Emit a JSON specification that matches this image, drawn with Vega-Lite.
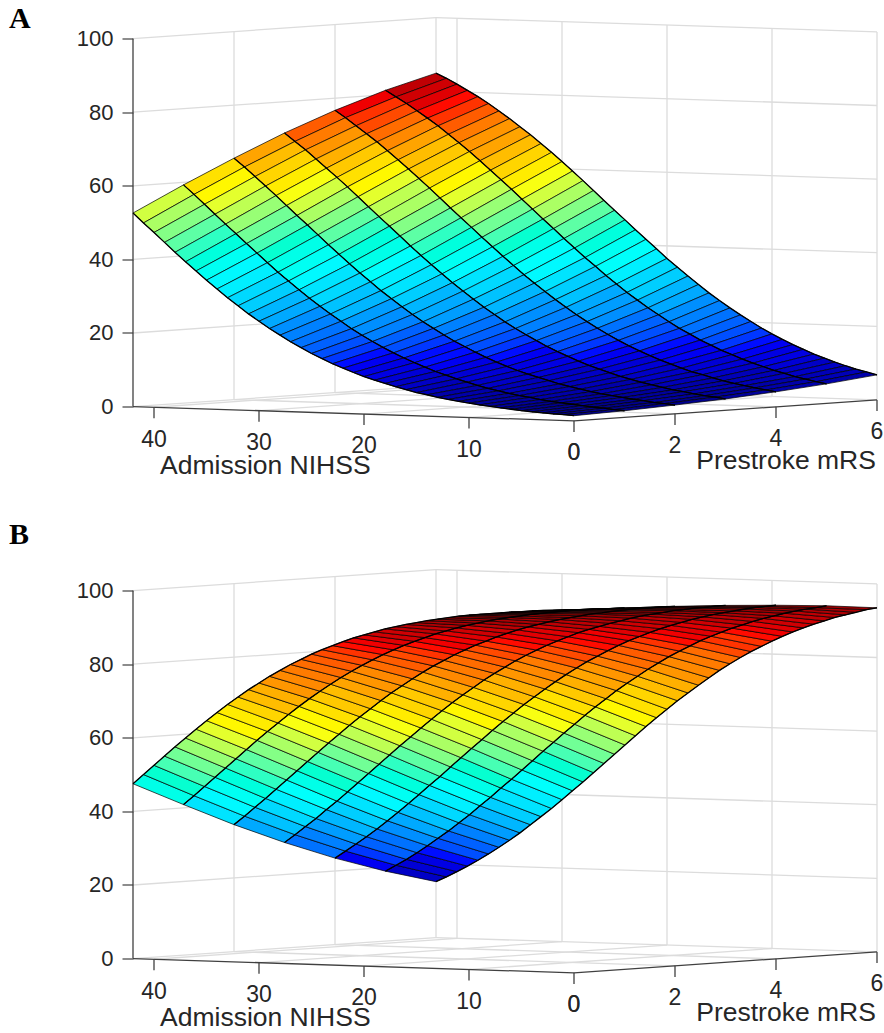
{"$schema":"https://vega.github.io/schema/vega-lite/v6.json","padding":{"left":9,"top":3.5,"right":0,"bottom":0},"background":"white","bounds":"flush","config":{"view":{"stroke":null},"font":"Liberation Sans"},
"datasets":{"wall":[{"id":"a","n":42,"m":0,"z":20},{"id":"a","n":42,"m":6,"z":20},{"id":"b","n":42,"m":0,"z":40},{"id":"b","n":42,"m":6,"z":40},{"id":"c","n":42,"m":0,"z":60},{"id":"c","n":42,"m":6,"z":60},{"id":"d","n":42,"m":0,"z":80},{"id":"d","n":42,"m":6,"z":80},{"id":"e","n":42,"m":0,"z":100},{"id":"e","n":42,"m":6,"z":100},{"id":"f","n":42,"m":6,"z":0},{"id":"f","n":0,"m":6,"z":0},{"id":"g","n":42,"m":6,"z":20},{"id":"g","n":0,"m":6,"z":20},{"id":"h","n":42,"m":6,"z":40},{"id":"h","n":0,"m":6,"z":40},{"id":"i","n":42,"m":6,"z":60},{"id":"i","n":0,"m":6,"z":60},{"id":"j","n":42,"m":6,"z":80},{"id":"j","n":0,"m":6,"z":80},{"id":"k","n":42,"m":6,"z":100},{"id":"k","n":0,"m":6,"z":100},{"id":"l","n":42,"m":2,"z":0},{"id":"l","n":42,"m":2,"z":100},{"id":"m","n":42,"m":4,"z":0},{"id":"m","n":42,"m":4,"z":100},{"id":"n","n":42,"m":6,"z":0},{"id":"n","n":42,"m":6,"z":100},{"id":"o","n":40,"m":6,"z":0},{"id":"o","n":40,"m":6,"z":100},{"id":"p","n":30,"m":6,"z":0},{"id":"p","n":30,"m":6,"z":100},{"id":"q","n":20,"m":6,"z":0},{"id":"q","n":20,"m":6,"z":100},{"id":"r","n":10,"m":6,"z":0},{"id":"r","n":10,"m":6,"z":100},{"id":"s","n":0,"m":6,"z":0},{"id":"s","n":0,"m":6,"z":100},{"id":"t","n":42,"m":0,"z":0},{"id":"t","n":42,"m":6,"z":0},{"id":"u","n":40,"m":0,"z":0},{"id":"u","n":40,"m":6,"z":0},{"id":"v","n":30,"m":0,"z":0},{"id":"v","n":30,"m":6,"z":0},{"id":"w","n":20,"m":0,"z":0},{"id":"w","n":20,"m":6,"z":0},{"id":"x","n":10,"m":0,"z":0},{"id":"x","n":10,"m":6,"z":0},{"id":"y","n":0,"m":2,"z":0},{"id":"y","n":42,"m":2,"z":0},{"id":"z","n":0,"m":4,"z":0},{"id":"z","n":42,"m":4,"z":0}],
"axes":[{"id":"a","n":42,"m":0,"z":0},{"id":"a","n":42,"m":0,"z":100},{"id":"b","n":42,"m":0,"z":0},{"id":"b","n":0,"m":0,"z":0},{"id":"c","n":0,"m":0,"z":0},{"id":"c","n":0,"m":6,"z":0},{"id":"d","n":40,"m":0,"z":0},{"id":"d","n":40,"m":0,"z":-3},{"id":"e","n":30,"m":0,"z":0},{"id":"e","n":30,"m":0,"z":-3},{"id":"f","n":20,"m":0,"z":0},{"id":"f","n":20,"m":0,"z":-3},{"id":"g","n":10,"m":0,"z":0},{"id":"g","n":10,"m":0,"z":-3},{"id":"h","n":0,"m":0,"z":0},{"id":"h","n":0,"m":0,"z":-3},{"id":"i","n":0,"m":2,"z":0},{"id":"i","n":0,"m":2,"z":-3},{"id":"j","n":0,"m":4,"z":0},{"id":"j","n":0,"m":4,"z":-3},{"id":"k","n":0,"m":6,"z":0},{"id":"k","n":0,"m":6,"z":-3}],
"ticks":[{"t":"40","n":40,"m":0},{"t":"30","n":30,"m":0},{"t":"20","n":20,"m":0},{"t":"10","n":10,"m":0},{"t":"0","n":0,"m":0},{"t":"0","n":0,"m":0},{"t":"2","n":0,"m":2},{"t":"4","n":0,"m":4},{"t":"6","n":0,"m":6}],
"titles":[{"t":"Admission NIHSS","n":29.4,"m":0},{"t":"Prestroke mRS","n":0,"m":4.2}]},
"data":{"values":[
{"p":"A","n":42,"m":6,"z":84.9},{"p":"A","n":42,"m":5,"z":81.2},{"p":"A","n":42,"m":4,"z":76.7},{"p":"A","n":42,"m":3,"z":71.5},{"p":"A","n":42,"m":2,"z":65.6},{"p":"A","n":42,"m":1,"z":59.3},{"p":"A","n":42,"m":0,"z":52.6},
{"p":"A","n":41,"m":6,"z":83.6},{"p":"A","n":41,"m":5,"z":79.5},{"p":"A","n":41,"m":4,"z":74.8},{"p":"A","n":41,"m":3,"z":69.3},{"p":"A","n":41,"m":2,"z":63.3},{"p":"A","n":41,"m":1,"z":56.8},{"p":"A","n":41,"m":0,"z":50},
{"p":"A","n":40,"m":6,"z":82.1},{"p":"A","n":40,"m":5,"z":77.8},{"p":"A","n":40,"m":4,"z":72.7},{"p":"A","n":40,"m":3,"z":67.1},{"p":"A","n":40,"m":2,"z":60.8},{"p":"A","n":40,"m":1,"z":54.2},{"p":"A","n":40,"m":0,"z":47.5},
{"p":"A","n":39,"m":6,"z":80.5},{"p":"A","n":39,"m":5,"z":75.9},{"p":"A","n":39,"m":4,"z":70.6},{"p":"A","n":39,"m":3,"z":64.7},{"p":"A","n":39,"m":2,"z":58.3},{"p":"A","n":39,"m":1,"z":51.6},{"p":"A","n":39,"m":0,"z":44.9},
{"p":"A","n":38,"m":6,"z":78.9},{"p":"A","n":38,"m":5,"z":74},{"p":"A","n":38,"m":4,"z":68.5},{"p":"A","n":38,"m":3,"z":62.3},{"p":"A","n":38,"m":2,"z":55.8},{"p":"A","n":38,"m":1,"z":49},{"p":"A","n":38,"m":0,"z":42.3},
{"p":"A","n":37,"m":6,"z":77.1},{"p":"A","n":37,"m":5,"z":72},{"p":"A","n":37,"m":4,"z":66.2},{"p":"A","n":37,"m":3,"z":59.9},{"p":"A","n":37,"m":2,"z":53.2},{"p":"A","n":37,"m":1,"z":46.5},{"p":"A","n":37,"m":0,"z":39.8},
{"p":"A","n":36,"m":6,"z":75.2},{"p":"A","n":36,"m":5,"z":69.8},{"p":"A","n":36,"m":4,"z":63.8},{"p":"A","n":36,"m":3,"z":57.4},{"p":"A","n":36,"m":2,"z":50.6},{"p":"A","n":36,"m":1,"z":43.9},{"p":"A","n":36,"m":0,"z":37.4},
{"p":"A","n":35,"m":6,"z":73.2},{"p":"A","n":35,"m":5,"z":67.6},{"p":"A","n":35,"m":4,"z":61.4},{"p":"A","n":35,"m":3,"z":54.8},{"p":"A","n":35,"m":2,"z":48.1},{"p":"A","n":35,"m":1,"z":41.4},{"p":"A","n":35,"m":0,"z":35},
{"p":"A","n":34,"m":6,"z":71.1},{"p":"A","n":34,"m":5,"z":65.3},{"p":"A","n":34,"m":4,"z":58.9},{"p":"A","n":34,"m":3,"z":52.2},{"p":"A","n":34,"m":2,"z":45.5},{"p":"A","n":34,"m":1,"z":38.9},{"p":"A","n":34,"m":0,"z":32.7},
{"p":"A","n":33,"m":6,"z":69},{"p":"A","n":33,"m":5,"z":62.9},{"p":"A","n":33,"m":4,"z":56.4},{"p":"A","n":33,"m":3,"z":49.6},{"p":"A","n":33,"m":2,"z":42.9},{"p":"A","n":33,"m":1,"z":36.4},{"p":"A","n":33,"m":0,"z":30.4},
{"p":"A","n":32,"m":6,"z":66.7},{"p":"A","n":32,"m":5,"z":60.4},{"p":"A","n":32,"m":4,"z":53.8},{"p":"A","n":32,"m":3,"z":47.1},{"p":"A","n":32,"m":2,"z":40.4},{"p":"A","n":32,"m":1,"z":34.1},{"p":"A","n":32,"m":0,"z":28.3},
{"p":"A","n":31,"m":6,"z":64.4},{"p":"A","n":31,"m":5,"z":57.9},{"p":"A","n":31,"m":4,"z":51.2},{"p":"A","n":31,"m":3,"z":44.5},{"p":"A","n":31,"m":2,"z":37.9},{"p":"A","n":31,"m":1,"z":31.8},{"p":"A","n":31,"m":0,"z":26.2},
{"p":"A","n":30,"m":6,"z":62},{"p":"A","n":30,"m":5,"z":55.4},{"p":"A","n":30,"m":4,"z":48.6},{"p":"A","n":30,"m":3,"z":41.9},{"p":"A","n":30,"m":2,"z":35.5},{"p":"A","n":30,"m":1,"z":29.6},{"p":"A","n":30,"m":0,"z":24.3},
{"p":"A","n":29,"m":6,"z":59.5},{"p":"A","n":29,"m":5,"z":52.8},{"p":"A","n":29,"m":4,"z":46.1},{"p":"A","n":29,"m":3,"z":39.4},{"p":"A","n":29,"m":2,"z":33.2},{"p":"A","n":29,"m":1,"z":27.5},{"p":"A","n":29,"m":0,"z":22.4},
{"p":"A","n":28,"m":6,"z":57},{"p":"A","n":28,"m":5,"z":50.2},{"p":"A","n":28,"m":4,"z":43.5},{"p":"A","n":28,"m":3,"z":37},{"p":"A","n":28,"m":2,"z":30.9},{"p":"A","n":28,"m":1,"z":25.5},{"p":"A","n":28,"m":0,"z":20.7},
{"p":"A","n":27,"m":6,"z":54.4},{"p":"A","n":27,"m":5,"z":47.6},{"p":"A","n":27,"m":4,"z":41},{"p":"A","n":27,"m":3,"z":34.6},{"p":"A","n":27,"m":2,"z":28.8},{"p":"A","n":27,"m":1,"z":23.6},{"p":"A","n":27,"m":0,"z":19},
{"p":"A","n":26,"m":6,"z":51.8},{"p":"A","n":26,"m":5,"z":45.1},{"p":"A","n":26,"m":4,"z":38.5},{"p":"A","n":26,"m":3,"z":32.3},{"p":"A","n":26,"m":2,"z":26.7},{"p":"A","n":26,"m":1,"z":21.7},{"p":"A","n":26,"m":0,"z":17.5},
{"p":"A","n":25,"m":6,"z":49.2},{"p":"A","n":25,"m":5,"z":42.5},{"p":"A","n":25,"m":4,"z":36.1},{"p":"A","n":25,"m":3,"z":30.1},{"p":"A","n":25,"m":2,"z":24.7},{"p":"A","n":25,"m":1,"z":20},{"p":"A","n":25,"m":0,"z":16},
{"p":"A","n":24,"m":6,"z":46.7},{"p":"A","n":24,"m":5,"z":40},{"p":"A","n":24,"m":4,"z":33.7},{"p":"A","n":24,"m":3,"z":28},{"p":"A","n":24,"m":2,"z":22.8},{"p":"A","n":24,"m":1,"z":18.4},{"p":"A","n":24,"m":0,"z":14.7},
{"p":"A","n":23,"m":6,"z":44.1},{"p":"A","n":23,"m":5,"z":37.5},{"p":"A","n":23,"m":4,"z":31.5},{"p":"A","n":23,"m":3,"z":25.9},{"p":"A","n":23,"m":2,"z":21.1},{"p":"A","n":23,"m":1,"z":16.9},{"p":"A","n":23,"m":0,"z":13.4},
{"p":"A","n":22,"m":6,"z":41.6},{"p":"A","n":22,"m":5,"z":35.2},{"p":"A","n":22,"m":4,"z":29.3},{"p":"A","n":22,"m":3,"z":24},{"p":"A","n":22,"m":2,"z":19.4},{"p":"A","n":22,"m":1,"z":15.5},{"p":"A","n":22,"m":0,"z":12.3},
{"p":"A","n":21,"m":6,"z":39.1},{"p":"A","n":21,"m":5,"z":32.8},{"p":"A","n":21,"m":4,"z":27.2},{"p":"A","n":21,"m":3,"z":22.1},{"p":"A","n":21,"m":2,"z":17.8},{"p":"A","n":21,"m":1,"z":14.2},{"p":"A","n":21,"m":0,"z":11.2},
{"p":"A","n":20,"m":6,"z":36.6},{"p":"A","n":20,"m":5,"z":30.6},{"p":"A","n":20,"m":4,"z":25.2},{"p":"A","n":20,"m":3,"z":20.4},{"p":"A","n":20,"m":2,"z":16.4},{"p":"A","n":20,"m":1,"z":13},{"p":"A","n":20,"m":0,"z":10.2},
{"p":"A","n":19,"m":6,"z":34.3},{"p":"A","n":19,"m":5,"z":28.4},{"p":"A","n":19,"m":4,"z":23.3},{"p":"A","n":19,"m":3,"z":18.8},{"p":"A","n":19,"m":2,"z":15},{"p":"A","n":19,"m":1,"z":11.9},{"p":"A","n":19,"m":0,"z":9.3},
{"p":"A","n":18,"m":6,"z":32},{"p":"A","n":18,"m":5,"z":26.4},{"p":"A","n":18,"m":4,"z":21.5},{"p":"A","n":18,"m":3,"z":17.3},{"p":"A","n":18,"m":2,"z":13.7},{"p":"A","n":18,"m":1,"z":10.8},{"p":"A","n":18,"m":0,"z":8.5},
{"p":"A","n":17,"m":6,"z":29.8},{"p":"A","n":17,"m":5,"z":24.4},{"p":"A","n":17,"m":4,"z":19.8},{"p":"A","n":17,"m":3,"z":15.8},{"p":"A","n":17,"m":2,"z":12.5},{"p":"A","n":17,"m":1,"z":9.9},{"p":"A","n":17,"m":0,"z":7.7},
{"p":"A","n":16,"m":6,"z":27.6},{"p":"A","n":16,"m":5,"z":22.6},{"p":"A","n":16,"m":4,"z":18.2},{"p":"A","n":16,"m":3,"z":14.5},{"p":"A","n":16,"m":2,"z":11.4},{"p":"A","n":16,"m":1,"z":9},{"p":"A","n":16,"m":0,"z":7},
{"p":"A","n":15,"m":6,"z":25.6},{"p":"A","n":15,"m":5,"z":20.8},{"p":"A","n":15,"m":4,"z":16.7},{"p":"A","n":15,"m":3,"z":13.3},{"p":"A","n":15,"m":2,"z":10.4},{"p":"A","n":15,"m":1,"z":8.2},{"p":"A","n":15,"m":0,"z":6.3},
{"p":"A","n":14,"m":6,"z":23.7},{"p":"A","n":14,"m":5,"z":19.1},{"p":"A","n":14,"m":4,"z":15.3},{"p":"A","n":14,"m":3,"z":12.1},{"p":"A","n":14,"m":2,"z":9.5},{"p":"A","n":14,"m":1,"z":7.4},{"p":"A","n":14,"m":0,"z":5.8},
{"p":"A","n":13,"m":6,"z":21.9},{"p":"A","n":13,"m":5,"z":17.6},{"p":"A","n":13,"m":4,"z":14},{"p":"A","n":13,"m":3,"z":11},{"p":"A","n":13,"m":2,"z":8.7},{"p":"A","n":13,"m":1,"z":6.7},{"p":"A","n":13,"m":0,"z":5.2},
{"p":"A","n":12,"m":6,"z":20.2},{"p":"A","n":12,"m":5,"z":16.1},{"p":"A","n":12,"m":4,"z":12.8},{"p":"A","n":12,"m":3,"z":10.1},{"p":"A","n":12,"m":2,"z":7.9},{"p":"A","n":12,"m":1,"z":6.1},{"p":"A","n":12,"m":0,"z":4.7},
{"p":"A","n":11,"m":6,"z":18.5},{"p":"A","n":11,"m":5,"z":14.8},{"p":"A","n":11,"m":4,"z":11.7},{"p":"A","n":11,"m":3,"z":9.2},{"p":"A","n":11,"m":2,"z":7.1},{"p":"A","n":11,"m":1,"z":5.5},{"p":"A","n":11,"m":0,"z":4.3},
{"p":"A","n":10,"m":6,"z":17},{"p":"A","n":10,"m":5,"z":13.5},{"p":"A","n":10,"m":4,"z":10.7},{"p":"A","n":10,"m":3,"z":8.3},{"p":"A","n":10,"m":2,"z":6.5},{"p":"A","n":10,"m":1,"z":5},{"p":"A","n":10,"m":0,"z":3.9},
{"p":"A","n":9,"m":6,"z":15.6},{"p":"A","n":9,"m":5,"z":12.4},{"p":"A","n":9,"m":4,"z":9.7},{"p":"A","n":9,"m":3,"z":7.6},{"p":"A","n":9,"m":2,"z":5.9},{"p":"A","n":9,"m":1,"z":4.6},{"p":"A","n":9,"m":0,"z":3.5},
{"p":"A","n":8,"m":6,"z":14.3},{"p":"A","n":8,"m":5,"z":11.3},{"p":"A","n":8,"m":4,"z":8.8},{"p":"A","n":8,"m":3,"z":6.9},{"p":"A","n":8,"m":2,"z":5.3},{"p":"A","n":8,"m":1,"z":4.1},{"p":"A","n":8,"m":0,"z":3.2},
{"p":"A","n":7,"m":6,"z":13.1},{"p":"A","n":7,"m":5,"z":10.3},{"p":"A","n":7,"m":4,"z":8.1},{"p":"A","n":7,"m":3,"z":6.3},{"p":"A","n":7,"m":2,"z":4.8},{"p":"A","n":7,"m":1,"z":3.7},{"p":"A","n":7,"m":0,"z":2.9},
{"p":"A","n":6,"m":6,"z":11.9},{"p":"A","n":6,"m":5,"z":9.4},{"p":"A","n":6,"m":4,"z":7.3},{"p":"A","n":6,"m":3,"z":5.7},{"p":"A","n":6,"m":2,"z":4.4},{"p":"A","n":6,"m":1,"z":3.4},{"p":"A","n":6,"m":0,"z":2.6},
{"p":"A","n":5,"m":6,"z":10.9},{"p":"A","n":5,"m":5,"z":8.5},{"p":"A","n":5,"m":4,"z":6.6},{"p":"A","n":5,"m":3,"z":5.1},{"p":"A","n":5,"m":2,"z":4},{"p":"A","n":5,"m":1,"z":3.1},{"p":"A","n":5,"m":0,"z":2.3},
{"p":"A","n":4,"m":6,"z":9.9},{"p":"A","n":4,"m":5,"z":7.8},{"p":"A","n":4,"m":4,"z":6},{"p":"A","n":4,"m":3,"z":4.7},{"p":"A","n":4,"m":2,"z":3.6},{"p":"A","n":4,"m":1,"z":2.8},{"p":"A","n":4,"m":0,"z":2.1},
{"p":"A","n":3,"m":6,"z":9},{"p":"A","n":3,"m":5,"z":7},{"p":"A","n":3,"m":4,"z":5.5},{"p":"A","n":3,"m":3,"z":4.2},{"p":"A","n":3,"m":2,"z":3.3},{"p":"A","n":3,"m":1,"z":2.5},{"p":"A","n":3,"m":0,"z":1.9},
{"p":"A","n":2,"m":6,"z":8.2},{"p":"A","n":2,"m":5,"z":6.4},{"p":"A","n":2,"m":4,"z":5},{"p":"A","n":2,"m":3,"z":3.8},{"p":"A","n":2,"m":2,"z":2.9},{"p":"A","n":2,"m":1,"z":2.3},{"p":"A","n":2,"m":0,"z":1.7},
{"p":"A","n":1,"m":6,"z":7.5},{"p":"A","n":1,"m":5,"z":5.8},{"p":"A","n":1,"m":4,"z":4.5},{"p":"A","n":1,"m":3,"z":3.5},{"p":"A","n":1,"m":2,"z":2.7},{"p":"A","n":1,"m":1,"z":2},{"p":"A","n":1,"m":0,"z":1.6},
{"p":"A","n":0,"m":6,"z":6.8},{"p":"A","n":0,"m":5,"z":5.3},{"p":"A","n":0,"m":4,"z":4.1},{"p":"A","n":0,"m":3,"z":3.1},{"p":"A","n":0,"m":2,"z":2.4},{"p":"A","n":0,"m":1,"z":1.8},{"p":"A","n":0,"m":0,"z":1.4},
{"p":"B","n":42,"m":6,"z":15.2},{"p":"B","n":42,"m":5,"z":19},{"p":"B","n":42,"m":4,"z":23.5},{"p":"B","n":42,"m":3,"z":28.7},{"p":"B","n":42,"m":2,"z":34.5},{"p":"B","n":42,"m":1,"z":40.9},{"p":"B","n":42,"m":0,"z":47.5},
{"p":"B","n":41,"m":6,"z":16.6},{"p":"B","n":41,"m":5,"z":20.7},{"p":"B","n":41,"m":4,"z":25.5},{"p":"B","n":41,"m":3,"z":30.9},{"p":"B","n":41,"m":2,"z":36.9},{"p":"B","n":41,"m":1,"z":43.4},{"p":"B","n":41,"m":0,"z":50.1},
{"p":"B","n":40,"m":6,"z":18.1},{"p":"B","n":40,"m":5,"z":22.4},{"p":"B","n":40,"m":4,"z":27.5},{"p":"B","n":40,"m":3,"z":33.2},{"p":"B","n":40,"m":2,"z":39.4},{"p":"B","n":40,"m":1,"z":46},{"p":"B","n":40,"m":0,"z":52.7},
{"p":"B","n":39,"m":6,"z":19.7},{"p":"B","n":39,"m":5,"z":24.3},{"p":"B","n":39,"m":4,"z":29.6},{"p":"B","n":39,"m":3,"z":35.5},{"p":"B","n":39,"m":2,"z":41.9},{"p":"B","n":39,"m":1,"z":48.6},{"p":"B","n":39,"m":0,"z":55.3},
{"p":"B","n":38,"m":6,"z":21.4},{"p":"B","n":38,"m":5,"z":26.3},{"p":"B","n":38,"m":4,"z":31.8},{"p":"B","n":38,"m":3,"z":38},{"p":"B","n":38,"m":2,"z":44.5},{"p":"B","n":38,"m":1,"z":51.2},{"p":"B","n":38,"m":0,"z":57.9},
{"p":"B","n":37,"m":6,"z":23.2},{"p":"B","n":37,"m":5,"z":28.4},{"p":"B","n":37,"m":4,"z":34.1},{"p":"B","n":37,"m":3,"z":40.4},{"p":"B","n":37,"m":2,"z":47.1},{"p":"B","n":37,"m":1,"z":53.8},{"p":"B","n":37,"m":0,"z":60.4},
{"p":"B","n":36,"m":6,"z":25.1},{"p":"B","n":36,"m":5,"z":30.5},{"p":"B","n":36,"m":4,"z":36.5},{"p":"B","n":36,"m":3,"z":43},{"p":"B","n":36,"m":2,"z":49.7},{"p":"B","n":36,"m":1,"z":56.4},{"p":"B","n":36,"m":0,"z":62.9},
{"p":"B","n":35,"m":6,"z":27.1},{"p":"B","n":35,"m":5,"z":32.8},{"p":"B","n":35,"m":4,"z":39},{"p":"B","n":35,"m":3,"z":45.6},{"p":"B","n":35,"m":2,"z":52.3},{"p":"B","n":35,"m":1,"z":59},{"p":"B","n":35,"m":0,"z":65.3},
{"p":"B","n":34,"m":6,"z":29.2},{"p":"B","n":34,"m":5,"z":35.1},{"p":"B","n":34,"m":4,"z":41.5},{"p":"B","n":34,"m":3,"z":48.2},{"p":"B","n":34,"m":2,"z":54.9},{"p":"B","n":34,"m":1,"z":61.5},{"p":"B","n":34,"m":0,"z":67.6},
{"p":"B","n":33,"m":6,"z":31.5},{"p":"B","n":33,"m":5,"z":37.6},{"p":"B","n":33,"m":4,"z":44.1},{"p":"B","n":33,"m":3,"z":50.8},{"p":"B","n":33,"m":2,"z":57.5},{"p":"B","n":33,"m":1,"z":63.9},{"p":"B","n":33,"m":0,"z":69.9},
{"p":"B","n":32,"m":6,"z":33.8},{"p":"B","n":32,"m":5,"z":40},{"p":"B","n":32,"m":4,"z":46.6},{"p":"B","n":32,"m":3,"z":53.4},{"p":"B","n":32,"m":2,"z":60},{"p":"B","n":32,"m":1,"z":66.3},{"p":"B","n":32,"m":0,"z":72},
{"p":"B","n":31,"m":6,"z":36.1},{"p":"B","n":31,"m":5,"z":42.6},{"p":"B","n":31,"m":4,"z":49.3},{"p":"B","n":31,"m":3,"z":56},{"p":"B","n":31,"m":2,"z":62.5},{"p":"B","n":31,"m":1,"z":68.6},{"p":"B","n":31,"m":0,"z":74.1},
{"p":"B","n":30,"m":6,"z":38.6},{"p":"B","n":30,"m":5,"z":45.1},{"p":"B","n":30,"m":4,"z":51.9},{"p":"B","n":30,"m":3,"z":58.5},{"p":"B","n":30,"m":2,"z":64.9},{"p":"B","n":30,"m":1,"z":70.8},{"p":"B","n":30,"m":0,"z":76},
{"p":"B","n":29,"m":6,"z":41.1},{"p":"B","n":29,"m":5,"z":47.7},{"p":"B","n":29,"m":4,"z":54.5},{"p":"B","n":29,"m":3,"z":61},{"p":"B","n":29,"m":2,"z":67.2},{"p":"B","n":29,"m":1,"z":72.9},{"p":"B","n":29,"m":0,"z":77.9},
{"p":"B","n":28,"m":6,"z":43.6},{"p":"B","n":28,"m":5,"z":50.3},{"p":"B","n":28,"m":4,"z":57},{"p":"B","n":28,"m":3,"z":63.5},{"p":"B","n":28,"m":2,"z":69.5},{"p":"B","n":28,"m":1,"z":74.9},{"p":"B","n":28,"m":0,"z":79.6},
{"p":"B","n":27,"m":6,"z":46.2},{"p":"B","n":27,"m":5,"z":53},{"p":"B","n":27,"m":4,"z":59.6},{"p":"B","n":27,"m":3,"z":65.9},{"p":"B","n":27,"m":2,"z":71.7},{"p":"B","n":27,"m":1,"z":76.8},{"p":"B","n":27,"m":0,"z":81.3},
{"p":"B","n":26,"m":6,"z":48.8},{"p":"B","n":26,"m":5,"z":55.5},{"p":"B","n":26,"m":4,"z":62.1},{"p":"B","n":26,"m":3,"z":68.2},{"p":"B","n":26,"m":2,"z":73.7},{"p":"B","n":26,"m":1,"z":78.6},{"p":"B","n":26,"m":0,"z":82.8},
{"p":"B","n":25,"m":6,"z":51.4},{"p":"B","n":25,"m":5,"z":58.1},{"p":"B","n":25,"m":4,"z":64.5},{"p":"B","n":25,"m":3,"z":70.4},{"p":"B","n":25,"m":2,"z":75.7},{"p":"B","n":25,"m":1,"z":80.3},{"p":"B","n":25,"m":0,"z":84.3},
{"p":"B","n":24,"m":6,"z":54},{"p":"B","n":24,"m":5,"z":60.6},{"p":"B","n":24,"m":4,"z":66.9},{"p":"B","n":24,"m":3,"z":72.5},{"p":"B","n":24,"m":2,"z":77.6},{"p":"B","n":24,"m":1,"z":81.9},{"p":"B","n":24,"m":0,"z":85.6},
{"p":"B","n":23,"m":6,"z":56.6},{"p":"B","n":23,"m":5,"z":63.1},{"p":"B","n":23,"m":4,"z":69.1},{"p":"B","n":23,"m":3,"z":74.6},{"p":"B","n":23,"m":2,"z":79.4},{"p":"B","n":23,"m":1,"z":83.4},{"p":"B","n":23,"m":0,"z":86.8},
{"p":"B","n":22,"m":6,"z":59.2},{"p":"B","n":22,"m":5,"z":65.5},{"p":"B","n":22,"m":4,"z":71.3},{"p":"B","n":22,"m":3,"z":76.5},{"p":"B","n":22,"m":2,"z":81},{"p":"B","n":22,"m":1,"z":84.8},{"p":"B","n":22,"m":0,"z":88},
{"p":"B","n":21,"m":6,"z":61.7},{"p":"B","n":21,"m":5,"z":67.8},{"p":"B","n":21,"m":4,"z":73.4},{"p":"B","n":21,"m":3,"z":78.3},{"p":"B","n":21,"m":2,"z":82.6},{"p":"B","n":21,"m":1,"z":86.1},{"p":"B","n":21,"m":0,"z":89.1},
{"p":"B","n":20,"m":6,"z":64.1},{"p":"B","n":20,"m":5,"z":70.1},{"p":"B","n":20,"m":4,"z":75.4},{"p":"B","n":20,"m":3,"z":80.1},{"p":"B","n":20,"m":2,"z":84},{"p":"B","n":20,"m":1,"z":87.3},{"p":"B","n":20,"m":0,"z":90},
{"p":"B","n":19,"m":6,"z":66.5},{"p":"B","n":19,"m":5,"z":72.2},{"p":"B","n":19,"m":4,"z":77.3},{"p":"B","n":19,"m":3,"z":81.7},{"p":"B","n":19,"m":2,"z":85.4},{"p":"B","n":19,"m":1,"z":88.4},{"p":"B","n":19,"m":0,"z":90.9},
{"p":"B","n":18,"m":6,"z":68.7},{"p":"B","n":18,"m":5,"z":74.2},{"p":"B","n":18,"m":4,"z":79.1},{"p":"B","n":18,"m":3,"z":83.2},{"p":"B","n":18,"m":2,"z":86.6},{"p":"B","n":18,"m":1,"z":89.5},{"p":"B","n":18,"m":0,"z":91.8},
{"p":"B","n":17,"m":6,"z":70.9},{"p":"B","n":17,"m":5,"z":76.2},{"p":"B","n":17,"m":4,"z":80.7},{"p":"B","n":17,"m":3,"z":84.6},{"p":"B","n":17,"m":2,"z":87.8},{"p":"B","n":17,"m":1,"z":90.4},{"p":"B","n":17,"m":0,"z":92.5},
{"p":"B","n":16,"m":6,"z":73},{"p":"B","n":16,"m":5,"z":78},{"p":"B","n":16,"m":4,"z":82.3},{"p":"B","n":16,"m":3,"z":85.9},{"p":"B","n":16,"m":2,"z":88.9},{"p":"B","n":16,"m":1,"z":91.3},{"p":"B","n":16,"m":0,"z":93.2},
{"p":"B","n":15,"m":6,"z":75.1},{"p":"B","n":15,"m":5,"z":79.8},{"p":"B","n":15,"m":4,"z":83.8},{"p":"B","n":15,"m":3,"z":87.1},{"p":"B","n":15,"m":2,"z":89.9},{"p":"B","n":15,"m":1,"z":92.1},{"p":"B","n":15,"m":0,"z":93.8},
{"p":"B","n":14,"m":6,"z":77},{"p":"B","n":14,"m":5,"z":81.4},{"p":"B","n":14,"m":4,"z":85.2},{"p":"B","n":14,"m":3,"z":88.3},{"p":"B","n":14,"m":2,"z":90.8},{"p":"B","n":14,"m":1,"z":92.8},{"p":"B","n":14,"m":0,"z":94.4},
{"p":"B","n":13,"m":6,"z":78.8},{"p":"B","n":13,"m":5,"z":82.9},{"p":"B","n":13,"m":4,"z":86.4},{"p":"B","n":13,"m":3,"z":89.3},{"p":"B","n":13,"m":2,"z":91.6},{"p":"B","n":13,"m":1,"z":93.5},{"p":"B","n":13,"m":0,"z":94.9},
{"p":"B","n":12,"m":6,"z":80.5},{"p":"B","n":12,"m":5,"z":84.4},{"p":"B","n":12,"m":4,"z":87.6},{"p":"B","n":12,"m":3,"z":90.2},{"p":"B","n":12,"m":2,"z":92.4},{"p":"B","n":12,"m":1,"z":94.1},{"p":"B","n":12,"m":0,"z":95.4},
{"p":"B","n":11,"m":6,"z":82},{"p":"B","n":11,"m":5,"z":85.7},{"p":"B","n":11,"m":4,"z":88.7},{"p":"B","n":11,"m":3,"z":91.1},{"p":"B","n":11,"m":2,"z":93.1},{"p":"B","n":11,"m":1,"z":94.6},{"p":"B","n":11,"m":0,"z":95.9},
{"p":"B","n":10,"m":6,"z":83.5},{"p":"B","n":10,"m":5,"z":86.9},{"p":"B","n":10,"m":4,"z":89.7},{"p":"B","n":10,"m":3,"z":91.9},{"p":"B","n":10,"m":2,"z":93.7},{"p":"B","n":10,"m":1,"z":95.1},{"p":"B","n":10,"m":0,"z":96.3},
{"p":"B","n":9,"m":6,"z":84.9},{"p":"B","n":9,"m":5,"z":88.1},{"p":"B","n":9,"m":4,"z":90.6},{"p":"B","n":9,"m":3,"z":92.7},{"p":"B","n":9,"m":2,"z":94.3},{"p":"B","n":9,"m":1,"z":95.6},{"p":"B","n":9,"m":0,"z":96.6},
{"p":"B","n":8,"m":6,"z":86.2},{"p":"B","n":8,"m":5,"z":89.1},{"p":"B","n":8,"m":4,"z":91.5},{"p":"B","n":8,"m":3,"z":93.4},{"p":"B","n":8,"m":2,"z":94.9},{"p":"B","n":8,"m":1,"z":96},{"p":"B","n":8,"m":0,"z":96.9},
{"p":"B","n":7,"m":6,"z":87.4},{"p":"B","n":7,"m":5,"z":90.1},{"p":"B","n":7,"m":4,"z":92.3},{"p":"B","n":7,"m":3,"z":94},{"p":"B","n":7,"m":2,"z":95.3},{"p":"B","n":7,"m":1,"z":96.4},{"p":"B","n":7,"m":0,"z":97.2},
{"p":"B","n":6,"m":6,"z":88.5},{"p":"B","n":6,"m":5,"z":91},{"p":"B","n":6,"m":4,"z":93},{"p":"B","n":6,"m":3,"z":94.5},{"p":"B","n":6,"m":2,"z":95.8},{"p":"B","n":6,"m":1,"z":96.7},{"p":"B","n":6,"m":0,"z":97.5},
{"p":"B","n":5,"m":6,"z":89.5},{"p":"B","n":5,"m":5,"z":91.8},{"p":"B","n":5,"m":4,"z":93.6},{"p":"B","n":5,"m":3,"z":95.1},{"p":"B","n":5,"m":2,"z":96.2},{"p":"B","n":5,"m":1,"z":97.1},{"p":"B","n":5,"m":0,"z":97.7},
{"p":"B","n":4,"m":6,"z":90.5},{"p":"B","n":4,"m":5,"z":92.6},{"p":"B","n":4,"m":4,"z":94.2},{"p":"B","n":4,"m":3,"z":95.5},{"p":"B","n":4,"m":2,"z":96.6},{"p":"B","n":4,"m":1,"z":97.3},{"p":"B","n":4,"m":0,"z":98},
{"p":"B","n":3,"m":6,"z":91.3},{"p":"B","n":3,"m":5,"z":93.3},{"p":"B","n":3,"m":4,"z":94.8},{"p":"B","n":3,"m":3,"z":96},{"p":"B","n":3,"m":2,"z":96.9},{"p":"B","n":3,"m":1,"z":97.6},{"p":"B","n":3,"m":0,"z":98.2},
{"p":"B","n":2,"m":6,"z":92.1},{"p":"B","n":2,"m":5,"z":93.9},{"p":"B","n":2,"m":4,"z":95.3},{"p":"B","n":2,"m":3,"z":96.3},{"p":"B","n":2,"m":2,"z":97.2},{"p":"B","n":2,"m":1,"z":97.8},{"p":"B","n":2,"m":0,"z":98.3},
{"p":"B","n":1,"m":6,"z":92.9},{"p":"B","n":1,"m":5,"z":94.4},{"p":"B","n":1,"m":4,"z":95.7},{"p":"B","n":1,"m":3,"z":96.7},{"p":"B","n":1,"m":2,"z":97.5},{"p":"B","n":1,"m":1,"z":98},{"p":"B","n":1,"m":0,"z":98.5},
{"p":"B","n":0,"m":6,"z":93.5},{"p":"B","n":0,"m":5,"z":95},{"p":"B","n":0,"m":4,"z":96.1},{"p":"B","n":0,"m":3,"z":97},{"p":"B","n":0,"m":2,"z":97.7},{"p":"B","n":0,"m":1,"z":98.2},{"p":"B","n":0,"m":0,"z":98.7}
]},
"facet":{"row":{"field":"p","type":"nominal","header":null}},"spacing":92,
"spec":{"width":744,"height":460,
"encoding":{"x":{"field":"sx","type":"quantitative","scale":{"domain":[0,744],"nice":false,"zero":false},"axis":null},"y":{"field":"yz","type":"quantitative","scale":{"domain":[-19,106],"nice":false,"zero":false},"axis":{"values":[0,20,40,60,80,100],"title":null,"grid":false,"domain":false,"tickSize":11,"tickColor":"#404040","tickWidth":1.2,"labelFont":"Liberation Sans","labelFontSize":22,"labelColor":"#262626","labelPadding":9}}},
"layer":[
{"data":{"name":"wall"},"transform":[{"calculate":"441-10.5*datum.n+50.5*datum.m","as":"sx"},{"calculate":"datum.z-3.88+0.0924*datum.n+0.95*datum.m","as":"yz"}],"mark":{"type":"line","stroke":"#dcdcdc","strokeWidth":1.3},"encoding":{"detail":{"field":"id"}}},
{"data":{"name":"axes"},"transform":[{"calculate":"441-10.5*datum.n+50.5*datum.m","as":"sx"},{"calculate":"datum.z-3.88+0.0924*datum.n+0.95*datum.m","as":"yz"}],"mark":{"type":"line","stroke":"#404040","strokeWidth":1.3},"encoding":{"detail":{"field":"id"}}},
{"data":{"name":"ticks"},"transform":[{"calculate":"441-10.5*datum.n+50.5*datum.m","as":"sx"},{"calculate":"-8.8-3.88+0.0924*datum.n+0.95*datum.m","as":"yz"}],"mark":{"type":"text","font":"Liberation Sans","fontSize":23,"fill":"#262626","baseline":"middle"},"encoding":{"text":{"field":"t"}}},
{"data":{"name":"titles"},"transform":[{"calculate":"441-10.5*datum.n+50.5*datum.m","as":"sx"},{"calculate":"-15-3.88+0.0924*datum.n+0.95*datum.m","as":"yz"}],"mark":{"type":"text","font":"Liberation Sans","fontSize":26.5,"fill":"#262626","baseline":"middle"},"encoding":{"text":{"field":"t"}}},
{"transform":[{"filter":"datum.n==0&&datum.m==0"},{"calculate":"-124","as":"sx"},{"calculate":"datum.p=='A'?105.4:115","as":"yz"}],"mark":{"type":"text","font":"Liberation Serif","fontWeight":"bold","fontSize":30,"fill":"black","align":"left","baseline":"middle"},"encoding":{"text":{"field":"p"}}},
{"transform":[{"joinaggregate":[{"op":"min","field":"z","as":"zmin"},{"op":"max","field":"z","as":"zmax"}],"groupby":["p"]},{"calculate":"[0,1,2,3,4]","as":"c"},{"flatten":["c"]},{"calculate":"datum.n-(datum.c==1||datum.c==2?1:0)","as":"cn"},{"calculate":"datum.m-(datum.c==2||datum.c==3?1:0)","as":"cm"},{"filter":"datum.cn>=0&&datum.cn<42&&datum.cm>=0&&datum.cm<6"},{"calculate":"datum.cn*10+datum.cm","as":"cell"},{"calculate":"datum.c==0?floor(min((datum.z-datum.zmin)/(datum.zmax-datum.zmin)*64,63))/63:null","as":"c0"},{"joinaggregate":[{"op":"max","field":"c0","as":"col"}],"groupby":["p","cell"]},{"calculate":"441-10.5*datum.n+50.5*datum.m","as":"sx"},{"calculate":"datum.z-3.88+0.0924*datum.n+0.95*datum.m","as":"yz"}],
"mark":{"type":"line","stroke":"black","strokeWidth":0.7,"strokeJoin":"miter"},
"encoding":{"detail":{"field":"cell","type":"nominal"},"order":{"field":"c","type":"quantitative"},"fill":{"field":"col","type":"quantitative","legend":null,"scale":{"domain":[0,0.125,0.375,0.625,0.875,1],"range":["#00008f","#0000ff","#00ffff","#ffff00","#ff0000","#800000"]}}}},
{"transform":[{"calculate":"441-10.5*datum.n+50.5*datum.m","as":"sx"},{"calculate":"datum.z-3.88+0.0924*datum.n+0.95*datum.m","as":"yz"}],"mark":{"type":"line","stroke":"black","strokeWidth":1.3},"encoding":{"detail":{"field":"m","type":"nominal"},"order":{"field":"n","type":"quantitative"}}}
]}}
